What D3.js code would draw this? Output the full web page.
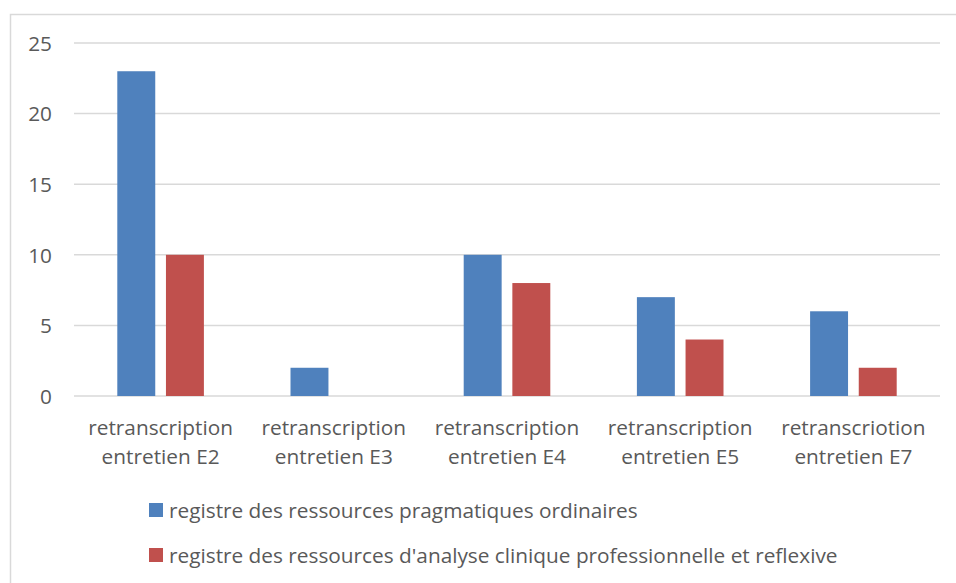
<!DOCTYPE html>
<html><head><meta charset="utf-8">
<script src="https://cdn.jsdelivr.net/npm/d3@7"></script>
<style>body{margin:0;background:#fff}svg{display:block}text{font-family:"Open Sans",sans-serif;fill:#595959}</style>
</head><body><svg id="c" width="956" height="583"></svg>
<script>
const categories = [["retranscription","entretien E2"],["retranscription","entretien E3"],["retranscription","entretien E4"],["retranscription","entretien E5"],["retranscriotion","entretien E7"]];
const seriesNames = ["registre des ressources pragmatiques ordinaires","registre des ressources d'analyse clinique professionnelle et reflexive"];
const pragmatiques = [23, 2, 10, 7, 6];
const analyse = [10, 0, 8, 4, 2];
const yTicks = [0, 5, 10, 15, 20, 25];
const colors = ["#4F81BD", "#C0504D"];
const FS = "20.8px";

const svg = d3.select("#c");
svg.append("rect").attr("x",10.5).attr("y",14.5).attr("width",960).attr("height",600).attr("fill","none").attr("stroke","#D9D9D9").attr("stroke-width",1.5);

const x0 = d3.scaleBand().domain(d3.range(categories.length)).range([74, 940]);
const x1 = d3.scaleBand().domain([0,1]).range([x0.bandwidth()*0.25, x0.bandwidth()*0.75]).paddingInner(0.22);
const y = d3.scaleLinear().domain([0,25]).range([396, 43]);

const g = svg.append("g");
g.selectAll("line.grid").data(yTicks).join("line").attr("class","grid")
  .attr("x1",74).attr("x2",940).attr("y1",d=>y(d)).attr("y2",d=>y(d))
  .attr("stroke","#D9D9D9").attr("stroke-width",1.5);

const yAxis = d3.axisLeft(y).tickValues(yTicks).tickSize(0).tickPadding(0);
const ya = svg.append("g").attr("transform","translate(52,0)").call(yAxis);
ya.select(".domain").remove();
ya.selectAll("text").style("font-size",FS).style("font-family","\"Open Sans\",sans-serif").attr("fill","#595959").attr("dy","0.35em");

const series = [pragmatiques, analyse];
series.forEach((vals, si) => {
  g.selectAll("rect.s"+si).data(vals).join("rect").attr("class","s"+si)
    .attr("x",(d,i)=>x0(i)+x1(si)).attr("width",x1.bandwidth())
    .attr("y",d=>y(d)).attr("height",d=>y(0)-y(d)).attr("fill",colors[si]);
});

const xl = svg.append("g");
categories.forEach((c,i)=>{
  const cx = x0(i)+x0.bandwidth()/2;
  const t = xl.append("text").attr("x",cx).attr("text-anchor","middle").style("font-size",FS);
  t.append("tspan").attr("x",cx).attr("y",435).text(c[0]);
  t.append("tspan").attr("x",cx).attr("y",464).text(c[1]);
});

const leg = svg.append("g");
seriesNames.forEach((n,i)=>{
  const yy = 503 + i*45;
  leg.append("rect").attr("x",149).attr("y",yy).attr("width",14).attr("height",14).attr("fill",colors[i]);
  leg.append("text").attr("x",169).attr("y",yy+15).style("font-size",FS).text(n);
});
</script></body></html>
